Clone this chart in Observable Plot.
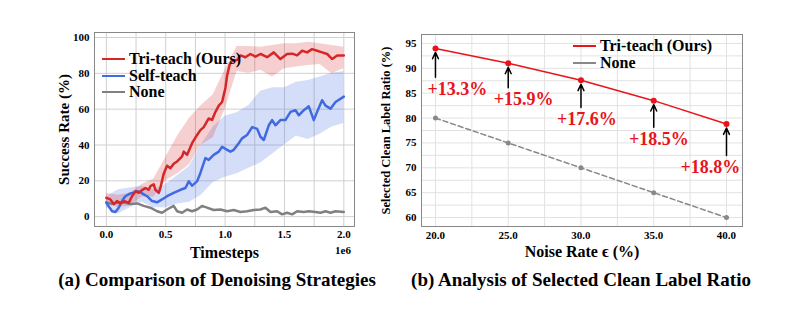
<!DOCTYPE html>
<html><head><meta charset="utf-8">
<script src="https://cdn.jsdelivr.net/npm/d3@7"></script>
<script src="https://cdn.jsdelivr.net/npm/@observablehq/plot@0.6"></script>
<style>
html,body{margin:0;padding:0;background:#fff;}
#wrap{position:relative;width:799px;height:322px;overflow:hidden;font-family:"Liberation Serif","Times New Roman",serif;font-weight:bold;color:#000;}
.panel{position:absolute;top:0;}
.panel svg{font-family:"Liberation Serif","Times New Roman",serif;font-weight:bold;}
g[aria-label="x-axis label"] text{font-size:16px;}
#pa g[aria-label="y-axis label"] text{font-size:15px;}
#pb g[aria-label="y-axis label"] text{font-size:12.5px;}
.legend{position:absolute;font-size:16px;line-height:16px;white-space:nowrap;}
.legend .row{display:flex;align-items:center;height:16.5px;}
.legend .sw{width:23px;height:0;border-top-style:solid;margin-right:4px;}
.caption{position:absolute;top:269px;font-size:19px;white-space:nowrap;transform:translateX(-50%);}
.sci{position:absolute;font-size:11px;font-weight:bold;transform:translate(-50%,-50%);}
</style></head>
<body>
<div id="wrap">
  <div class="panel" id="pa" style="left:0"></div>
  <div class="panel" id="pb" style="left:360px"></div>
  <div class="legend" style="left:102px;top:51px">
    <div class="row"><span class="sw" style="border-color:#d62728;border-top-width:2.5px"></span>Tri-teach (Ours)</div>
    <div class="row"><span class="sw" style="border-color:#4169e1;border-top-width:2.5px"></span>Self-teach</div>
    <div class="row"><span class="sw" style="border-color:#808080;border-top-width:2.5px"></span>None</div>
  </div>
  <div class="legend" style="left:573px;top:37px">
    <div class="row" style="height:17px"><span class="sw" style="border-color:#e8141a;border-top-width:2px"></span>Tri-teach (Ours)</div>
    <div class="row" style="height:17px"><span class="sw" style="border-color:#888;border-top-width:2px"></span>None</div>
  </div>
  <div class="sci" style="left:343px;top:250px">1e6</div>
  <div class="caption" style="left:217px">(a) Comparison of Denoising Strategies</div>
  <div class="caption" style="left:581px">(b) Analysis of Selected Clean Label Ratio</div>
</div>
<script>
// ---- Panel (a): success rate vs timesteps (x in units of 1e6) ----
const triT = [0, .034, .062, .09, .118, .152, .188, .216, .244, .272, .301, .329, .357, .371, .399, .413, .441, .455, .483, .511, .539, .567, .596, .638, .652, .680, .722, .764, .792, .820, .862, .890, .919, .947, .975, 1.003, 1.017, 1.039, 1.059, 1.101, 1.129, 1.171, 1.213, 1.256, 1.298, 1.354, 1.410, 1.466, 1.522, 1.565, 1.607, 1.649, 1.691, 1.733, 1.775, 1.817, 1.860, 1.902, 1.944, 2.0];
const triV = [10.5, 9.6, 7, 8.7, 7.4, 8.7, 7.7, 11.4, 14.2, 13.3, 14.8, 16, 15, 17, 18, 15, 13.3, 16, 24, 28.4, 27, 29.5, 30.8, 33.6, 36.3, 34.5, 41, 45.6, 48.3, 50, 54.8, 54, 58.5, 62, 64, 72, 78.8, 85, 87, 87.5, 90, 89, 90.8, 89.3, 90.8, 89, 91.7, 88, 90.8, 91, 90, 92.6, 91.7, 93.5, 92.6, 91.7, 90.8, 88, 90, 90];
const selfT = [0, .048, .076, .104, .132, .160, .202, .230, .258, .287, .315, .343, .385, .427, .469, .511, .567, .624, .666, .694, .722, .764, .792, .834, .862, .904, .947, .975, 1.017, 1.045, 1.073, 1.115, 1.143, 1.185, 1.228, 1.270, 1.298, 1.326, 1.368, 1.396, 1.424, 1.466, 1.508, 1.551, 1.593, 1.621, 1.663, 1.705, 1.747, 1.775, 1.817, 1.846, 1.888, 1.930, 2.0];
const selfV = [7.7, 3, 2.6, 5, 8.7, 11.4, 13, 13.3, 14.2, 13.7, 12.4, 11.4, 8.7, 8, 9.6, 11.4, 13.3, 15, 16, 19.7, 17.3, 19.7, 24.4, 32.7, 31.7, 34.5, 36.3, 39, 37.3, 36.3, 37.3, 41, 43.7, 45.6, 50, 49, 44.6, 42.8, 51, 53.9, 51, 53.9, 53.9, 58.5, 59.4, 56.6, 59.4, 61.6, 53.9, 58.5, 65, 62, 60.3, 64, 67];
const noneT = [0, .048, .09, .146, .202, .258, .315, .371, .427, .469, .511, .567, .596, .638, .680, .722, .764, .806, .848, .904, .961, 1.017, 1.073, 1.129, 1.185, 1.242, 1.298, 1.340, 1.382, 1.438, 1.480, 1.522, 1.565, 1.607, 1.663, 1.705, 1.761, 1.803, 1.846, 1.888, 1.930, 2.0];
const noneV = [8, 7, 7.7, 8, 7, 7.4, 6, 5, 3, 2.2, 4, 6, 3, 2.2, 4, 3, 4, 6, 5, 3.7, 4, 3, 3.7, 2.6, 3, 3.7, 4, 5, 2.6, 3, 1.3, 2.2, 1.3, 3, 2.6, 3, 2.6, 2.2, 3, 2.2, 3, 2.6];
const bandT = [0, .1, .2, .3, .4, .5, .6, .7, .8, .9, 1.0, 1.1, 1.2, 1.3, 1.4, 1.5, 1.6, 1.7, 1.8, 1.9, 2.0];
const triLo = [8, 5, 6, 11, 11, 20, 24, 29, 40, 44, 60, 81, 80, 81.7, 78, 82.6, 83.5, 84.4, 85, 79.8, 82.6];
const triHi = [13, 12, 13, 18, 21, 33, 45, 55, 62, 68, 82, 95, 95, 94.6, 95.5, 96.5, 96.5, 97.4, 96.5, 95.5, 94.6];
const selfLo = [5, 1.5, 5, 8, 5, 5, 7, 8, 12, 19, 22, 24, 27, 30, 35, 40, 45, 43, 46, 50, 52];
const selfHi = [11, 15, 16, 17, 15, 18, 23, 28, 40, 50, 56, 58, 62, 70, 72, 72, 75, 76, 78, 80, 81];
const xTicksA = [0, 0.5, 1.0, 1.5, 2.0];
const yTicksA = [0, 20, 40, 60, 80, 100];

// ---- Panel (b): selected clean label ratio vs noise rate ----
const noiseRates = [20, 25, 30, 35, 40];
const triRatio = [94.0, 91.0, 87.6, 83.5, 78.8];
const noneRatio = [80, 75, 70, 65, 60];
const gainLabels = ["+13.3%", "+15.9%", "+17.6%", "+18.5%", "+18.8%"];
const gainX = [21.5, 26.05, 30.4, 35.35, 38.9];
const gainY = [85.8, 83.7, 79.7, 75.75, 70.05];
const xTicksB = [20, 25, 30, 35, 40];
const yTicksB = [60, 65, 70, 75, 80, 85, 90, 95];

const zipXY = (t, v, s) => t.map((x, i) => ({x, y: v[i], s}));
const lines = [
  ...zipXY(noneT, noneV, "None"),
  ...zipXY(selfT, selfV, "Self-teach"),
  ...zipXY(triT, triV, "Tri-teach (Ours)")
];
const bands = [
  ...bandT.map((x, i) => ({x, lo: selfLo[i], hi: selfHi[i], s: "Self-teach"})),
  ...bandT.map((x, i) => ({x, lo: triLo[i], hi: triHi[i], s: "Tri-teach (Ours)"}))
];
const colA = {domain: ["Tri-teach (Ours)", "Self-teach", "None"], range: ["#d62728", "#4169e1", "#808080"]};

const pa = Plot.plot({
  width: 400, height: 262,
  marginLeft: 94, marginRight: 46, marginTop: 32, marginBottom: 36,
  style: {fontFamily: "Liberation Serif", fontSize: "11px", fontWeight: "bold", background: "transparent", overflow: "visible", color: "#000"},
  x: {domain: [-0.1, 2.09]},
  y: {domain: [-5.5, 102.8]},
  color: colA,
  marks: [
    Plot.gridX({ticks: d3.range(0, 2.01, 0.25), stroke: "#d0d0d0", strokeOpacity: 1}),
    Plot.gridY({ticks: yTicksA, stroke: "#d0d0d0", strokeOpacity: 1}),
    Plot.areaY(bands, {x: "x", y1: "lo", y2: "hi", z: "s", fill: "s", fillOpacity: 0.22}),
    Plot.line(lines, {x: "x", y: "y", z: "s", stroke: "s", strokeWidth: 2.5}),
    Plot.frame({stroke: "#888", strokeWidth: 1}),
    Plot.axisX({ticks: xTicksA, tickFormat: d3.format(".1f"), tickSize: 0, tickPadding: 4, label: "Timesteps", labelAnchor: "center", labelArrow: "none", labelOffset: 31}),
    Plot.axisY({ticks: yTicksA, tickSize: 0, tickPadding: 5, label: "Success Rate (%)", labelAnchor: "center", labelArrow: "none", labelOffset: 36})
  ]
});
document.getElementById("pa").appendChild(pa);

const ratioRows = [
  ...noiseRates.map((x, i) => ({x, y: noneRatio[i], s: "None"})),
  ...noiseRates.map((x, i) => ({x, y: triRatio[i], s: "Tri-teach (Ours)"}))
];
const gains = noiseRates.map((x, i) => ({x, y: triRatio[i], lx: gainX[i], ly: gainY[i], t: gainLabels[i]}));

const pb = Plot.plot({
  width: 439, height: 262,
  marginLeft: 61, marginRight: 57, marginTop: 34, marginBottom: 36,
  style: {fontFamily: "Liberation Serif", fontSize: "11px", fontWeight: "bold", background: "transparent", overflow: "visible", color: "#000"},
  x: {domain: [19.04, 41.1]},
  y: {domain: [58.2, 96.8]},
  marks: [
    Plot.gridX({ticks: d3.range(20, 40.1, 2.5), stroke: "#e2e2e2", strokeOpacity: 1}),
    Plot.gridY({ticks: d3.range(60, 95.1, 2.5), stroke: "#e2e2e2", strokeOpacity: 1}),
    Plot.line(ratioRows.filter(d => d.s === "None"), {x: "x", y: "y", stroke: "#888", strokeWidth: 1.5, strokeDasharray: "5,3"}),
    Plot.dot(ratioRows.filter(d => d.s === "None"), {x: "x", y: "y", r: 2.5, fill: "#888"}),
    Plot.line(ratioRows.filter(d => d.s !== "None"), {x: "x", y: "y", stroke: "#e8141a", strokeWidth: 1.5}),
    Plot.dot(ratioRows.filter(d => d.s !== "None"), {x: "x", y: "y", r: 3, fill: "#e8141a"}),
    Plot.arrow(gains, {x1: "x", y1: "ly", x2: "x", y2: "y", insetStart: 12, insetEnd: 4, stroke: "#000", strokeWidth: 1.5, headLength: 7, headAngle: 50}),
    Plot.text(gains, {x: "lx", y: "ly", text: "t", fill: "#e8141a", fontSize: 18, fontWeight: "bold"}),
    Plot.frame({stroke: "#888", strokeWidth: 1}),
    Plot.axisX({ticks: xTicksB, tickFormat: d3.format(".1f"), tickSize: 0, tickPadding: 5, label: "Noise Rate \u03F5 (%)", labelAnchor: "center", labelArrow: "none", labelOffset: 30}),
    Plot.axisY({ticks: yTicksB, tickSize: 0, tickPadding: 5, label: "Selected Clean Label Ratio (%)", labelAnchor: "center", labelArrow: "none", labelOffset: 40})
  ]
});
document.getElementById("pb").appendChild(pb);
</script>
</body></html>
